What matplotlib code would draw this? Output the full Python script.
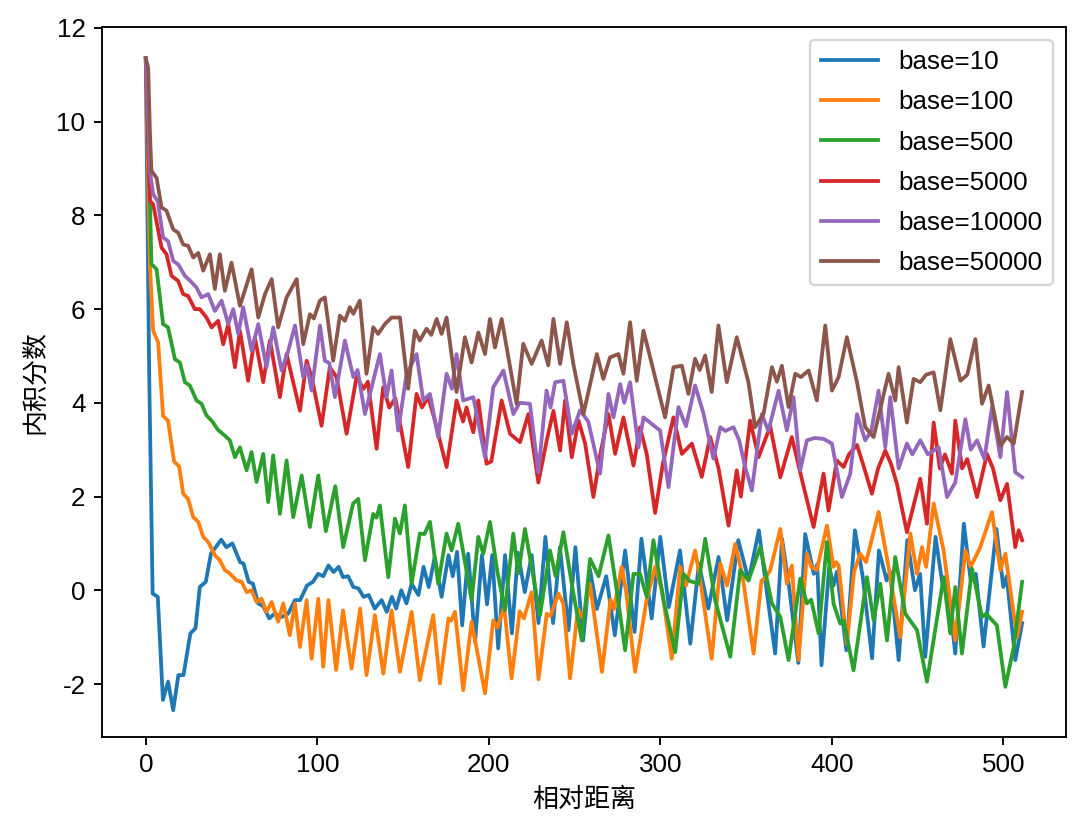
import matplotlib
matplotlib.use("Agg")
import matplotlib.pyplot as plt
import numpy as np

plt.rcParams['font.family'] = ['Liberation Sans', 'Noto Sans CJK SC', 'DejaVu Sans']
plt.rcParams['font.size'] = 11
plt.rcParams['axes.unicode_minus'] = False

# (relative distance, inner-product score), turning points
base10 = [(0, 11.35), (2, 4.6), (4, -0.07), (7, -0.14), (10, -2.34), (13, -1.95), (16, -2.56), (19, -1.81),
          (22, -1.81), (26, -0.92), (29, -0.81), (31.5, 0.07), (35, 0.18), (38, 0.78), (44, 1.08), (47, 0.92),
          (50.5, 1.0), (55, 0.6), (57, 0.57), (60, 0.18), (62.5, 0.14), (65.5, -0.28), (68.5, -0.34), (72, -0.6),
          (75, -0.5), (79, -0.57), (83, -0.5), (87, -0.21), (90, -0.21), (94, 0.1), (97.5, 0.18), (100.5, 0.35),
          (103.5, 0.3), (106.5, 0.53), (109.5, 0.39), (112.5, 0.5), (115, 0.28), (118, 0.3), (121, 0.07),
          (124, 0.04), (127, -0.14), (130, -0.1), (133.5, -0.39), (137.5, -0.21), (140.5, -0.46), (143.5, -0.14),
          (146, -0.39), (149, 0.0), (152, -0.28), (155, 0.14), (159, -0.1), (162, 0.5), (165, 0.07), (168.5, 0.71),
          (172.5, -0.14), (176.5, 0.75), (179, 0.3), (181.5, 0.82), (184.5, -0.75), (188, 0.78), (192, -1.1),
          (196, 0.75), (199, -0.3), (202, 0.75), (205.5, -1.24), (209.5, 0.75), (213.5, -0.92), (217, 0.8),
          (221, -0.04), (225, 0.75), (229, -0.7), (233, 1.14), (237.5, -0.7), (241.5, 0.92), (246.5, -0.85),
          (250.5, 0.92), (255, -1.07), (259, 0.45), (263, -0.4), (268.5, 0.3), (273.5, -0.96), (279.5, 0.85),
          (285, -0.89), (289, 1.1), (295, -0.6), (300, 1.14), (305, -0.36), (311.5, 0.85), (317.5, -1.14),
          (322.5, 0.57), (328, -0.39), (334, 0.71), (339, -0.64), (345.5, 1.07), (351.5, 0.21), (357.5, 1.28),
          (362, 0.0), (367, -1.35), (371, 1.1), (375, 0.1), (380.5, -1.55), (384.5, 1.2), (389.5, 0.35),
          (391.5, 0.55), (394, -1.6), (398.5, 0.5), (401, 0.1), (403, 0.4), (408.5, -1.28), (413.5, 1.28),
          (418, 0.3), (423.5, -1.45), (427.5, 0.85), (432, 0.21), (434, 0.4), (439, -1.49), (444, 1.07),
          (448.5, 0.0), (451.5, 0.35), (454.5, -1.42), (460.5, 1.14), (464.5, 0.14), (467, 0.3), (472, -1.35),
          (477, 1.42), (481, 0.21), (484, 0.35), (488.5, -1.2), (496, 1.31), (500, 0.07), (502, 0.3),
          (507, -1.49), (511, -0.7)]

base100 = [(0, 11.35), (2.4, 6.96), (4.3, 5.54), (7.2, 5.29), (10.1, 3.72), (13, 3.62), (16.5, 2.75), (19.5, 2.64),
           (21.8, 2.06), (24.7, 1.95), (27.7, 1.56), (30.6, 1.46), (33.5, 1.14), (36.4, 1.03), (40.3, 0.75),
           (43.2, 0.64), (46.1, 0.43), (49, 0.36), (52.9, 0.21), (55.9, 0.18), (58.8, -0.04), (61.7, 0.0),
           (64.6, -0.25), (67.5, -0.18), (70.4, -0.46), (73.4, -0.25), (77.2, -0.67), (80.2, -0.28), (84, -0.96),
           (87, -0.28), (89.9, -1.21), (93.8, -0.21), (96.7, -1.46), (100.6, -0.18), (103.5, -1.63),
           (106.5, -0.21), (111, -1.7), (115, -0.43), (120, -1.67), (125, -0.39), (128.7, -1.81), (133.6, -0.53),
           (138.5, -1.78), (143.3, -0.43), (148.2, -1.74), (155, -0.46), (159.8, -1.92), (167.6, -0.53),
           (171.5, -1.99), (176.5, -0.6), (178, -0.65), (180.3, -0.46), (185.1, -2.13), (190, -0.67),
           (197.8, -2.2), (202.6, -0.64), (205, -0.8), (209, -0.35), (213.3, -1.88), (218, -0.45), (220.5, -0.6),
           (225, -0.04), (229, -1.9), (233.8, -0.5), (236, -0.55), (240.6, -0.07), (243.5, -0.28), (247.4, -1.88),
           (252, -0.4), (255, -0.6), (259, 0.14), (266, -1.74), (271, -0.2), (273, -0.4), (277.5, 0.5), (280, 0.0),
           (285.3, -1.74), (292, -0.21), (297, 0.5), (301, 0.0), (306.7, -1.46), (311.6, 0.5), (315, 0.1),
           (320.3, 0.85), (323, 0.3), (330, -1.46), (335, 0.57), (339, 0.1), (343.7, 0.99), (348, 0.3),
           (354.4, -1.35), (359, 0.2), (362, 0.3), (364.1, 0.43), (370, 1.31), (373.8, 0.14), (376.7, 0.53),
           (380.6, -1.49), (385.5, 0.78), (388, 0.5), (391.3, 0.43), (397.2, 1.38), (401, 0.5), (402.5, 0.6),
           (404, 0.53), (408.8, -1.14), (413, 0.4), (416.6, 0.78), (420, 0.6), (427.3, 1.67), (433.1, 0.5),
           (439.9, -1.0), (445.8, 1.21), (449.7, 0.35), (452.6, 0.92), (455, 0.5), (459.4, 1.85), (465.2, 0.85),
           (472, -1.07), (477.9, 0.85), (481, 0.5), (486.6, 0.92), (493.4, 1.67), (498.3, 0.43), (501.2, 0.78),
           (508, -1.0), (511, -0.46)]

base500 = [(0, 11.35), (2.4, 8.38), (3.3, 6.96), (6.3, 6.85), (10.1, 5.68), (13, 5.61), (17, 4.93), (19.9, 4.86),
           (22.8, 4.44), (25.7, 4.37), (29.6, 4.05), (32.5, 3.98), (35.4, 3.73), (38.4, 3.62), (42.2, 3.42),
           (46.1, 3.3), (49, 3.2), (52, 2.84), (54.9, 3.05), (58.8, 2.56), (61.7, 2.95), (64.6, 2.31), (68.5, 2.91),
           (71.4, 1.88), (74.3, 2.88), (78.2, 1.63), (82.1, 2.77), (86, 1.56), (90.9, 2.45), (95.7, 1.35),
           (100.6, 2.45), (105, 1.26), (110.5, 2.22), (115.1, 0.92), (120.9, 1.85), (123.9, 1.95), (127.8, 0.64),
           (132.6, 1.63), (134.5, 1.55), (136.5, 1.81), (141.4, 0.28), (145.3, 1.53), (148.2, 1.21), (151.1, 1.81),
           (155, 0.14), (159.8, 1.21), (162.5, 1.2), (165.7, 1.46), (170.5, 0.14), (175.4, 1.21), (178.3, 0.85),
           (182.2, 1.42), (190, -0.21), (193.9, 1.14), (196.8, 0.78), (200.7, 1.46), (205, 0.4), (209.4, -0.43),
           (214.3, 1.21), (217.2, 0.36), (221.1, 1.31), (229.9, -0.53), (235.7, 0.85), (239, 0.3), (243.5, 1.24),
           (248.4, 0.14), (254.2, -1.07), (259.1, 0.67), (264, 0.3), (269.8, 1.17), (274.6, 0.0), (279.5, -1.28),
           (284.4, 0.35), (288.2, 0.35), (292.1, -0.14), (296, 1.07), (301.9, -0.21), (308.7, -1.32),
           (313.5, 0.35), (317, 0.2), (322.3, 0.14), (326.2, 1.1), (332, -0.21), (340.8, -1.42), (346.6, 0.43),
           (351.4, 0.21), (358.3, 0.92), (365.1, -0.28), (370, -0.57), (374.8, -1.49), (381.6, 0.25),
           (385.5, -0.28), (388, -0.2), (392.3, -0.92), (397.2, 1.03), (401, -0.28), (404.9, -0.71), (407, -0.65),
           (412.7, -1.71), (420.5, 0.28), (424.4, -0.64), (428.3, 0.14), (432.2, -1.07), (437, 0.71),
           (442.9, -0.5), (449.7, -0.85), (455.5, -1.95), (465.2, 0.28), (469.1, -0.92), (472, 0.07),
           (475.9, -1.35), (481.8, 0.46), (487.6, -0.57), (490, -0.5), (496.3, -0.75), (501.2, -2.06),
           (506.1, -1.21), (511, 0.18)]

base5000 = [(0, 11.35), (1.5, 9.5), (2.4, 8.31), (4.3, 8.24), (9.2, 7.31), (12.1, 7.17), (15, 6.71), (18.9, 6.6),
            (21.8, 6.32), (24.7, 6.28), (28.6, 6.0), (31.5, 6.0), (35.4, 5.82), (38.4, 5.61), (42.2, 5.75),
            (45.2, 5.25), (48.1, 5.68), (52, 4.76), (54.9, 5.54), (59.7, 4.47), (63.6, 5.4), (68.5, 4.44),
            (72.4, 5.33), (78.2, 4.12), (82.1, 5.04), (89.9, 3.83), (93.8, 4.9), (97, 4.5), (102.5, 3.51),
            (107.3, 4.76), (111.2, 4.55), (117.1, 3.34), (122.9, 4.55), (127, 4.3), (129.5, 4.45), (134.6, 3.02),
            (138.4, 4.33), (142, 3.9), (145.5, 4.1), (153, 2.63), (157.9, 4.19), (161, 3.9), (164.7, 4.12),
            (168, 3.7), (175.4, 2.63), (181.2, 4.05), (185, 3.6), (187, 3.9), (191, 3.37), (193.9, 4.05),
            (198.7, 2.7), (201.5, 2.75), (207.5, 4.05), (212.4, 3.34), (218.2, 3.16), (223.1, 3.76), (228.9, 2.3),
            (233.8, 3.2), (237.7, 3.83), (241.6, 2.98), (244.5, 4.05), (248.4, 2.84), (252.3, 3.62), (256.2, 3.13),
            (261, 1.99), (265, 2.9), (269.8, 3.76), (273.7, 2.91), (278.5, 3.69), (284.4, 2.66), (288.2, 3.48),
            (292.1, 2.91), (297, 1.65), (301.5, 2.7), (307.7, 3.69), (312.6, 2.91), (318.4, 3.13), (324.2, 2.42),
            (329.1, 3.27), (334, 2.6), (339.8, 1.38), (344.6, 2.56), (347, 2.0), (352.4, 3.62), (357.3, 2.84),
            (364.1, 3.5), (370, 2.41), (376.7, 3.27), (383, 2.3), (389.4, 1.35), (395.2, 2.49), (398.1, 1.7),
            (403, 2.77), (406.9, 2.63), (410, 2.9), (414.7, 3.1), (419, 2.6), (423.4, 2.06), (427, 2.6),
            (431.2, 2.98), (434.5, 2.7), (438, 2.27), (443.8, 1.24), (451.6, 2.38), (455.5, 1.42), (459.4, 3.58),
            (463, 2.6), (466, 2.9), (470.1, 2.49), (472, 3.62), (476, 2.6), (479, 2.8), (484.7, 1.99),
            (490.5, 2.91), (494, 2.6), (498.3, 1.92), (502.2, 2.27), (507, 0.92), (509, 1.28), (511, 1.07)]

base10000 = [(0, 11.35), (1.5, 10.0), (2.4, 8.95), (4.3, 8.45), (7, 8.3), (10.1, 7.53), (13, 7.45), (16, 7.03),
             (19, 6.95), (22.8, 6.71), (26, 6.6), (29.6, 6.46), (32.5, 6.25), (36.4, 6.32), (40.3, 5.96),
             (44.2, 6.18), (48.1, 5.68), (51, 6.0), (53.9, 5.47), (56.8, 6.04), (61.7, 5.11), (65.6, 5.68),
             (70.4, 4.76), (74.3, 5.61), (79.2, 4.69), (83, 5.1), (87, 5.65), (91.8, 4.55), (94, 4.8), (96.7, 4.26),
             (101.6, 5.65), (104.4, 4.9), (107, 4.85), (110.3, 4.12), (116.1, 5.33), (121, 4.55), (123.5, 4.7),
             (127.8, 3.76), (136.5, 5.04), (140.4, 4.12), (143.3, 4.69), (147.2, 3.41), (152, 4.6), (157.9, 5.04),
             (161.8, 4.05), (165.7, 4.19), (170.5, 3.27), (175.4, 4.62), (178.5, 4.3), (181.2, 5.04),
             (185.1, 4.05), (191, 4.12), (197.8, 2.84), (202.6, 4.33), (208.5, 4.69), (214.3, 3.76), (218, 4.0),
             (224, 3.98), (228.9, 2.52), (233.7, 4.26), (236, 3.9), (238.7, 4.44), (243.5, 4.47), (248.4, 3.34),
             (253.2, 3.84), (258, 3.6), (264.9, 2.49), (269.8, 4.19), (272.7, 3.69), (276.6, 4.4), (279, 4.0),
             (282.4, 4.44), (287.3, 3.05), (290.2, 3.69), (295, 3.55), (299.9, 3.41), (304.8, 2.2), (310.6, 3.91),
             (315, 3.5), (320.3, 4.37), (325, 3.8), (331, 2.81), (335, 3.48), (338, 3.4), (342.7, 3.48),
             (346, 3.2), (349.5, 2.63), (353.4, 2.13), (359.2, 3.76), (363, 3.4), (369, 4.26), (373.8, 3.41),
             (377.7, 4.12), (381.6, 2.56), (385.5, 3.2), (390, 3.25), (395.2, 3.23), (400.1, 3.13), (405.9, 1.99),
             (410.8, 2.49), (414.7, 3.76), (419.5, 3.2), (423, 3.4), (427.3, 4.26), (431.2, 3.05), (434.1, 4.12),
             (439, 2.6), (443.8, 3.13), (447, 2.9), (451.6, 3.2), (456, 2.9), (462.3, 3.05), (467.2, 1.99),
             (472, 2.3), (477.9, 3.65), (481, 3.0), (484.7, 3.2), (489, 2.8), (493.4, 3.91), (498.3, 2.84),
             (502.2, 4.23), (507, 2.52), (511, 2.41)]

base50000 = [(0, 11.35), (1.4, 11.15), (2.4, 9.8), (3.3, 8.95), (6.3, 8.8), (9.2, 8.17), (12.1, 8.1), (16, 7.7),
             (18.9, 7.63), (21.8, 7.38), (24.7, 7.35), (27.7, 7.1), (30.6, 7.2), (33.5, 6.82), (37.4, 7.17),
             (40.3, 6.43), (43.2, 7.17), (46.1, 6.39), (50, 6.99), (54.9, 6.07), (61.7, 6.85), (65.6, 5.82),
             (69.5, 6.32), (73.4, 6.64), (77.2, 5.61), (82.1, 6.25), (88, 6.64), (91.8, 5.25), (95.7, 5.89),
             (98, 5.8), (101.5, 6.18), (104.4, 6.25), (109.3, 4.9), (113.2, 5.86), (116.1, 5.75), (119, 6.04),
             (121, 5.9), (124.8, 6.18), (128.7, 4.62), (132.6, 5.61), (135.5, 5.47), (139.4, 5.68), (143.3, 5.82),
             (148.2, 5.82), (153, 4.3), (156.9, 5.54), (159.8, 5.33), (163.7, 5.58), (166.5, 5.45), (169.6, 5.79),
             (172.5, 5.47), (175.4, 5.82), (181.2, 4.23), (186.1, 5.4), (190, 4.86), (193.9, 5.5), (197.8, 5.04),
             (200.7, 5.79), (203.6, 5.18), (207.5, 5.79), (216.2, 3.98), (220.1, 5.26), (225, 4.83), (230.8, 5.33),
             (234.7, 4.8), (237.7, 5.79), (241.6, 4.83), (245.5, 5.72), (249.3, 4.83), (255.2, 3.76), (263, 5.04),
             (266.8, 4.51), (270.7, 4.97), (275.6, 5.04), (278.5, 4.62), (282.4, 5.72), (286.3, 4.47),
             (290.2, 5.54), (296, 4.69), (302.8, 3.69), (307.7, 4.76), (312.6, 4.79), (316.4, 4.19), (320.3, 4.94),
             (323, 4.7), (326.2, 5.01), (330, 4.23), (333.9, 5.65), (338.8, 4.44), (344.6, 5.4), (351.4, 4.44),
             (355.3, 3.48), (360.2, 3.76), (365.1, 4.76), (368, 4.45), (370.9, 4.79), (374.8, 3.91), (378.7, 4.62),
             (382, 4.55), (386.5, 4.69), (391.3, 4.05), (396.2, 5.65), (400.1, 4.26), (404, 4.55), (408.8, 5.4),
             (414.7, 4.44), (419.5, 3.48), (424.4, 3.27), (433.1, 4.62), (437, 4.05), (439, 4.76), (443.8, 3.58),
             (447.7, 4.51), (451.6, 4.44), (455, 4.6), (459.4, 4.65), (463.3, 3.84), (469.1, 5.36), (475, 4.47),
             (479, 4.6), (483.7, 5.36), (487.6, 3.98), (491.5, 4.37), (498.3, 3.09), (502.2, 3.27), (506.1, 3.13),
             (511, 4.23)]

series = [("base=10", base10), ("base=100", base100), ("base=500", base500),
          ("base=5000", base5000), ("base=10000", base10000), ("base=50000", base50000)]

fig = plt.figure(figsize=(1080 / 170, 835 / 170), dpi=170)
ax = fig.add_axes([0.0944, 0.1174, 0.8926, 0.8503])

for name, pts in series:
    pts = np.array(pts)
    ax.plot(pts[:, 0], pts[:, 1], label=name, linewidth=1.6)

ax.set_xlim(-25.55, 536.55)
ax.set_ylim(-3.13, 12.02)
ax.set_xlabel("相对距离")
ax.set_ylabel("内积分数")
ax.legend(loc="upper right", fontsize=11, handlelength=2.2, labelspacing=0.62)

fig.savefig("out.png", dpi=170)
